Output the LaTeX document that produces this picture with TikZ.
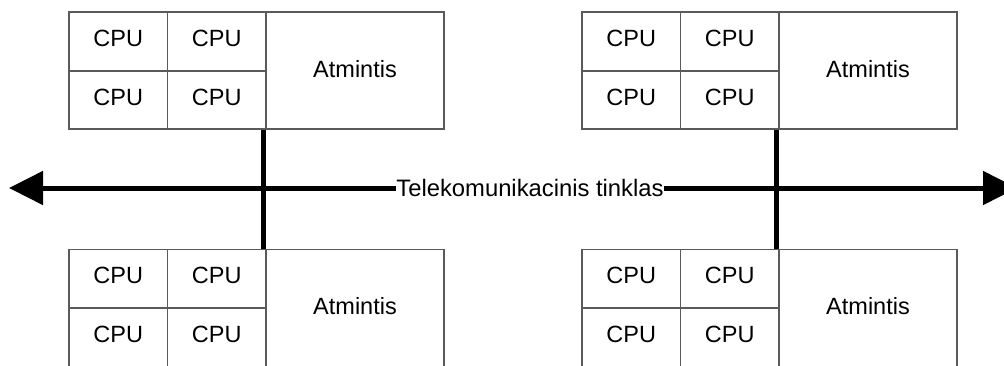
\documentclass[tikz,border=0pt]{standalone}
\usepackage{fontspec}
\setmainfont{Liberation Sans}
\usetikzlibrary{arrows.meta}
\definecolor{boxgray}{HTML}{5A5A5A}
\tikzset{
  cell/.style={draw=boxgray, line width=1.9pt, rectangle, inner sep=0pt,
    font=\fontsize{23.5}{27}\selectfont, text=black},
  cpu/.style={cell, minimum width=98.5pt, minimum height=58.5pt, text depth=6pt},
  mem/.style={cell, minimum width=178pt, minimum height=117pt, text depth=3.5pt},
  bus/.style={line width=5pt, black},
  bigtip/.tip={Triangle[length=34pt,width=33pt]},
  netlabel/.style={fill=white, inner xsep=0.5pt, inner ysep=2pt, font=\fontsize{23.8}{27}\selectfont}
}
\begin{document}
\begin{tikzpicture}[x=1pt,y=1pt]
\clip (0,0) rectangle (1004,-365);
\foreach \g/\ox/\oy in {1/69/-12.3, 2/582/-12.3, 3/69/-249.5, 4/582/-249.5}{
  \begin{scope}[shift={(\ox,\oy)}]
    \node[cpu] (g\g c1) at (49.25,-29.25) {CPU};
    \node[cpu] (g\g c2) at (147.75,-29.25) {CPU};
    \node[cpu] (g\g c3) at (49.25,-87.75) {CPU};
    \node[cpu] (g\g c4) at (147.75,-87.75) {CPU};
    \node[mem] (g\g m) at (286,-58.5) {Atmintis};
  \end{scope}
}
\coordinate (wl) at (9,-188);
\coordinate (wr) at (1017,-188);
\draw[bus] ([xshift=-1.5pt]g1m.south west) -- ([xshift=-1.5pt]g3m.north west);
\draw[bus] ([xshift=-1.5pt]g2m.south west) -- ([xshift=-1.5pt]g4m.north west);
\draw[bus, bigtip-bigtip] (wl) -- (wr);
\node[netlabel] (net) at (530,-188) {Telekomunikacinis tinklas};
\end{tikzpicture}
\end{document}
